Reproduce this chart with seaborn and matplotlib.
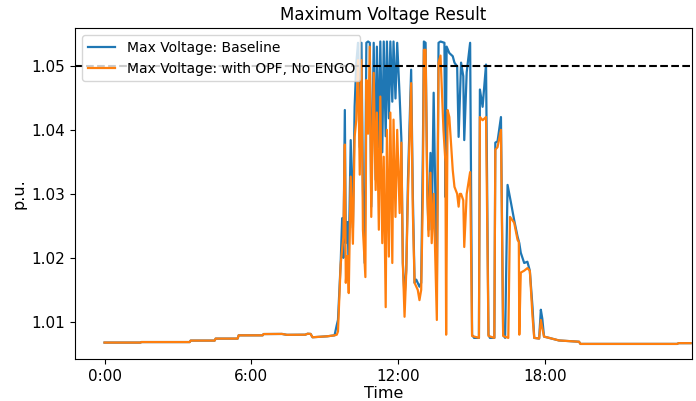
import numpy as np
import pandas as pd
import seaborn as sns
import matplotlib.pyplot as plt


# shared quiet period before the solar peak (hours, p.u.)
night_t = [0.00, 1.47, 1.50, 3.48, 3.52, 4.50, 4.54, 5.44, 5.48, 6.46, 6.50, 7.25,
           7.45, 8.20, 8.30, 8.42, 8.50, 8.80, 9.10, 9.40]
night_v = [1.00677, 1.00677, 1.00685, 1.00685, 1.00708, 1.00708, 1.00739, 1.00739,
           1.00790, 1.00790, 1.00810, 1.00812, 1.00798, 1.00800, 1.00815, 1.00812,
           1.00760, 1.00768, 1.00775, 1.00790]

# shared tail after the peak
tail_t = [18.17, 18.57, 19.39, 19.45, 23.40, 23.46, 23.95]
tail_v = [1.0075, 1.0071, 1.0069, 1.00656, 1.00656, 1.00668, 1.00668]

# baseline during daytime
base_t = [9.49, 9.54, 9.65, 9.71, 9.76, 9.82, 9.86, 9.93, 9.98, 10.06, 10.15, 10.22,
          10.29, 10.36, 10.43, 10.50, 10.56, 10.63, 10.70, 10.77, 10.84, 10.90, 11.00,
          11.08, 11.13, 11.21, 11.27, 11.35, 11.41, 11.49, 11.54, 11.62, 11.68, 11.76,
          11.81, 11.89, 11.96, 12.06, 12.13, 12.19, 12.26, 12.33, 12.40, 12.53, 12.60,
          12.67, 12.74, 12.80, 12.87, 12.94, 13.01, 13.05, 13.12, 13.19, 13.24, 13.32,
          13.37, 13.45, 13.52, 13.58, 13.65, 13.73, 13.89, 13.93, 13.98, 14.09, 14.23,
          14.30, 14.41, 14.47, 14.57, 14.66, 14.70, 14.80, 14.94, 15.02, 15.10, 15.30,
          15.34, 15.45, 15.59, 15.69, 15.75, 15.93, 15.97, 16.06, 16.20, 16.29, 16.37,
          16.47, 16.61, 16.74, 16.88, 16.95, 17.01, 17.15, 17.28, 17.38, 17.49, 17.56,
          17.76, 17.83, 17.89, 17.96]
base_v = [1.0095, 1.0103, 1.0192, 1.0262, 1.0200, 1.0431, 1.0223, 1.0256, 1.0202,
          1.0384, 1.0247, 1.0436, 1.0505, 1.0536, 1.0373, 1.0536, 1.0306, 1.0192,
          1.0536, 1.0538, 1.0536, 1.0280, 1.0536, 1.0322, 1.0530, 1.0373, 1.0538,
          1.0365, 1.0538, 1.0390, 1.0538, 1.0418, 1.0538, 1.0444, 1.0538, 1.0449,
          1.0536, 1.0452, 1.0386, 1.0192, 1.0139, 1.0181, 1.0322, 1.0494, 1.0295,
          1.0161, 1.0166, 1.0161, 1.0155, 1.0161, 1.0370, 1.0538, 1.0536, 1.0306,
          1.0244, 1.0364, 1.0244, 1.0458, 1.0296, 1.0150, 1.0536, 1.0538, 1.0536,
          1.0295, 1.0530, 1.0520, 1.0515, 1.0505, 1.0499, 1.0389, 1.0505, 1.0484,
          1.0384, 1.0490, 1.0536, 1.0080, 1.0075, 1.0075, 1.0463, 1.0436, 1.0502,
          1.0080, 1.0075, 1.0075, 1.0380, 1.0382, 1.0420, 1.0080, 1.0075, 1.0314,
          1.0286, 1.0259, 1.0233, 1.0223, 1.0208, 1.0192, 1.0194, 1.0180, 1.0123,
          1.0075, 1.0074, 1.0119, 1.0105, 1.0077]

# OPF case during daytime
opf_t = [9.49, 9.54, 9.65, 9.76, 9.82, 9.86, 9.93, 9.98, 10.06, 10.15, 10.22, 10.29,
         10.36, 10.43, 10.50, 10.56, 10.66, 10.70, 10.77, 10.84, 10.90, 11.00, 11.08,
         11.13, 11.21, 11.27, 11.35, 11.41, 11.49, 11.54, 11.62, 11.68, 11.76, 11.81,
         11.89, 11.96, 12.06, 12.13, 12.19, 12.26, 12.33, 12.40, 12.53, 12.60, 12.67,
         12.74, 12.80, 12.87, 12.94, 13.01, 13.05, 13.12, 13.19, 13.24, 13.32, 13.37,
         13.45, 13.52, 13.58, 13.65, 13.73, 13.85, 13.93, 13.96, 14.02, 14.09, 14.23,
         14.30, 14.41, 14.47, 14.52, 14.57, 14.66, 14.70, 14.80, 14.94, 15.02, 15.30,
         15.34, 15.45, 15.59, 15.69, 15.93, 15.97, 16.06, 16.20, 16.29, 16.50, 16.57,
         16.74, 16.88, 16.93, 16.95, 17.01, 17.15, 17.28, 17.38, 17.49, 17.56, 17.76,
         17.83, 17.89, 17.96]
opf_v = [1.0080, 1.0085, 1.0190, 1.0233, 1.0377, 1.0161, 1.0203, 1.0145, 1.0327,
         1.0222, 1.0389, 1.0416, 1.0509, 1.0330, 1.0509, 1.0244, 1.0170, 1.0478,
         1.0394, 1.0530, 1.0264, 1.0489, 1.0306, 1.0427, 1.0244, 1.0452, 1.0223,
         1.0358, 1.0123, 1.0400, 1.0202, 1.0427, 1.0192, 1.0416, 1.0264, 1.0400,
         1.0270, 1.0380, 1.0192, 1.0108, 1.0178, 1.0300, 1.0473, 1.0270, 1.0161,
         1.0155, 1.0150, 1.0134, 1.0150, 1.0300, 1.0525, 1.0525, 1.0300, 1.0234,
         1.0333, 1.0223, 1.0300, 1.0197, 1.0103, 1.0505, 1.0516, 1.0400, 1.0350,
         1.0080, 1.0431, 1.0420, 1.0337, 1.0311, 1.0300, 1.0280, 1.0300, 1.0300,
         1.0290, 1.0217, 1.0300, 1.0334, 1.0078, 1.0075, 1.0420, 1.0415, 1.0420,
         1.0078, 1.0075, 1.0369, 1.0373, 1.0400, 1.0078, 1.0075, 1.0264, 1.0255,
         1.0228, 1.0225, 1.0080, 1.0177, 1.0180, 1.0184, 1.0180, 1.0108, 1.0075,
         1.0074, 1.0103, 1.0090, 1.0077]

limit = 1.05
tick_hours = [0, 6, 12, 18]
tick_labels = ['0:00', '6:00', '12:00', '18:00']


def main():
    baseline = pd.DataFrame({'hour': night_t + base_t + tail_t,
                             'pu': night_v + base_v + tail_v})
    opf = pd.DataFrame({'hour': night_t + opf_t + tail_t,
                        'pu': night_v + opf_v + tail_v})

    fig = plt.figure(figsize=(6.96, 4.01), dpi=100)
    ax = fig.add_axes([0.108, 0.105, 0.886, 0.825])
    sns.lineplot(x='hour', y='pu', data=baseline, ax=ax, color='tab:blue',
                 estimator=None, sort=False, linewidth=1.6,
                 label='Max Voltage: Baseline')
    sns.lineplot(x='hour', y='pu', data=opf, ax=ax, color='tab:orange',
                 estimator=None, sort=False, linewidth=1.6,
                 label='Max Voltage: with OPF, No ENGO')
    ax.axhline(limit, color='black', linestyle='--', linewidth=1.5)

    ax.set_xticks(tick_hours)
    ax.set_xticklabels(tick_labels)
    ax.set_yticks([1.01, 1.02, 1.03, 1.04, 1.05])
    ax.set_xlim(-1.2, 24.0)
    ax.set_ylim(1.00422, 1.0559)
    ax.tick_params(labelsize=11)
    ax.set_xlabel('Time', fontsize=11.5, labelpad=2)
    ax.set_ylabel('p.u.', fontsize=11.5)
    ax.set_title('Maximum Voltage Result', fontsize=12)
    ax.legend(loc='upper left', fontsize=10)
    fig.savefig('out.png', dpi=100)
    plt.close(fig)


if __name__ == '__main__':
    main()
